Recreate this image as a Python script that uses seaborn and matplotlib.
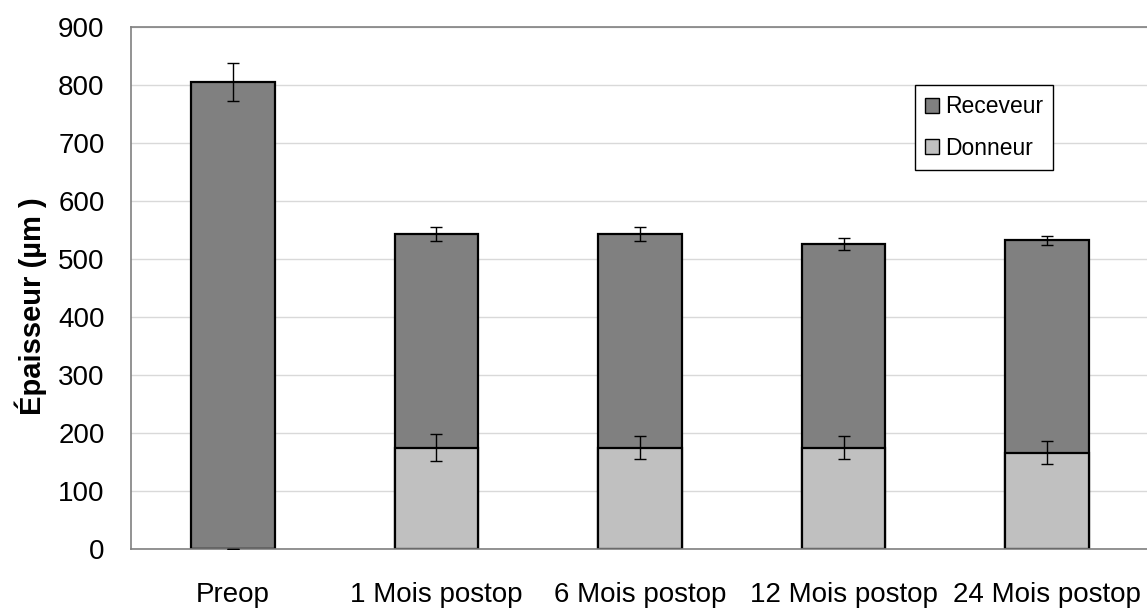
import numpy as np
import pandas as pd
import matplotlib
matplotlib.use("Agg")
import matplotlib.pyplot as plt
import seaborn as sns
from matplotlib.patches import Patch

# Corneal thickness (µm) per visit: donor graft and recipient bed
categories = ["Preop", "1 Mois postop", "6 Mois postop", "12 Mois postop", "24 Mois postop"]
donneur = [0, 175, 175, 175, 166]
receveur = [805, 368, 368, 351, 366]
err_donneur = [0, 24, 20, 20, 20]
err_total = [33, 12, 12, 11, 8]

sns.set_style("white")
plt.rcParams["font.family"] = ["Liberation Sans", "DejaVu Sans"]
plt.rcParams["text.color"] = "black"
plt.rcParams["axes.labelcolor"] = "black"
plt.rcParams["xtick.labelcolor"] = "black"
plt.rcParams["ytick.labelcolor"] = "black"

total = [d + r for d, r in zip(donneur, receveur)]
df = pd.DataFrame({"visite": categories, "donneur": donneur, "total": total})

c_rec = "#808080"
c_don = "#c0c0c0"

fig = plt.figure(figsize=(11.47, 6.13), dpi=100)
ax = fig.add_axes([131 / 1147, 64 / 613, 1018 / 1147, 522 / 613])

bar_kw = dict(width=0.41, edgecolor="black", linewidth=1.6, saturation=1, ax=ax, order=categories)
sns.barplot(data=df, x="visite", y="total", color=c_rec, **bar_kw)
sns.barplot(data=df, x="visite", y="donneur", color=c_don, **bar_kw)

xpos = np.arange(len(categories))
ax.errorbar(xpos, total, yerr=err_total, fmt="none", ecolor="black", elinewidth=1, capsize=4, capthick=1, zorder=5)
ax.errorbar(xpos, donneur, yerr=err_donneur, fmt="none", ecolor="black", elinewidth=1, capsize=4, capthick=1, zorder=5)

ax.set_xlim(-0.5, len(categories) - 0.5)
ax.set_ylim(0, 900)
ax.set_yticks(np.arange(0, 901, 100))
ax.yaxis.grid(True, color="#d9d9d9", linewidth=1)
ax.set_axisbelow(True)

ax.set_xticks(xpos)
ax.set_xticklabels(categories)
ax.set_xticks(np.arange(-0.5, len(categories), 1), minor=True)
ax.tick_params(axis="x", which="major", length=0, pad=24, labelsize=20)
ax.tick_params(axis="x", which="minor", length=8, width=1, color="#808080", direction="out")
ax.tick_params(axis="y", which="major", length=7, width=1, color="#808080", direction="out", pad=12, labelsize=20)

for side in ["left", "bottom", "top"]:
    ax.spines[side].set_color("#808080")
    ax.spines[side].set_linewidth(1.2)
ax.spines["right"].set_visible(False)

ax.set_xlabel("")
ax.set_ylabel("Épaisseur (µm )", fontsize=21, fontweight="bold")
ax.yaxis.set_label_coords(-84 / 1018, 0.465)

handles = [
    Patch(facecolor=c_rec, edgecolor="black", linewidth=1, label="Receveur"),
    Patch(facecolor=c_don, edgecolor="black", linewidth=1, label="Donneur"),
]
leg = ax.legend(handles=handles, loc="upper left", bbox_to_anchor=((915 - 131) / 1018, (549 - 85) / 522),
                fontsize=16.5, frameon=True, fancybox=False, framealpha=1, edgecolor="black",
                handlelength=0.6, handleheight=0.6, handletextpad=0.25, borderpad=0.45, labelspacing=0.8,
                borderaxespad=0)
leg.get_frame().set_linewidth(1)

fig.savefig("out.png", dpi=100)
